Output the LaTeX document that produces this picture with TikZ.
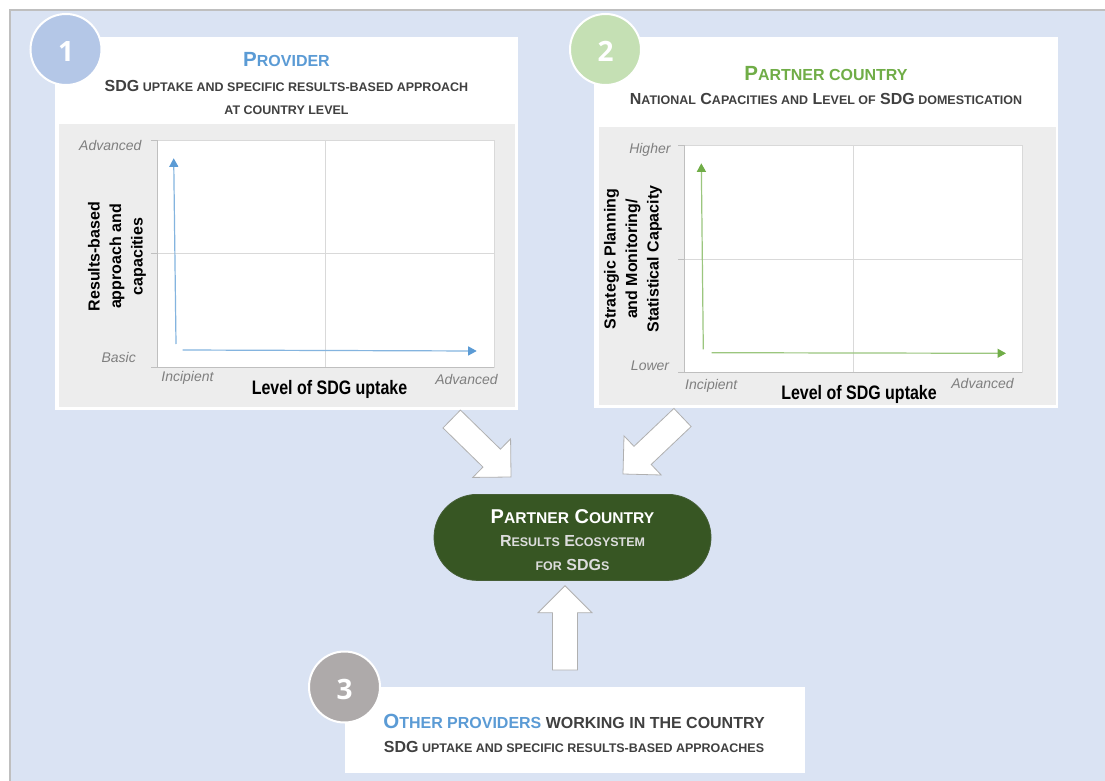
\documentclass[tikz,border=0pt]{standalone}
\usepackage{fontspec}
\setmainfont{Liberation Sans}
\newfontfamily\narrowfont{Liberation Sans}[FakeStretch=0.82]
\newfontfamily\numfont{Open Sans}
\usetikzlibrary{arrows.meta,calc}

\definecolor{panelblue}{HTML}{DAE3F3}
\definecolor{framegrey}{HTML}{BFBFBF}
\definecolor{plotgrey}{HTML}{EDEDED}
\definecolor{gridgrey}{HTML}{D9D9D9}
\definecolor{axisgrey}{HTML}{BFBFBF}
\definecolor{labelgrey}{HTML}{7F7F7F}
\definecolor{textgrey}{HTML}{404040}
\definecolor{provblue}{HTML}{5B9BD5}
\definecolor{partgreen}{HTML}{70AD47}
\definecolor{circblue}{HTML}{B4C7E7}
\definecolor{circgreen}{HTML}{C5E0B4}
\definecolor{circgrey}{HTML}{AEAAAA}
\definecolor{darkgreen}{HTML}{375623}
\definecolor{pillgrey}{HTML}{DDDDDD}
\definecolor{arrowgrey}{HTML}{B0B0B0}

% small caps made from smaller capitals
\makeatletter
\newcommand\sm[1]{{\fontsize{\fpeval{0.78*\f@size}}{\f@baselineskip}\selectfont #1}}
\makeatother
\newcommand\circnum[1]{\raisebox{-2pt}[\height][\depth]{#1}}
% white block arrow from tail #1 to tip #2
\newcommand\blockarrow[2]{%
  \coordinate (hb) at ($(#2)!27pt!(#1)$);
  \draw[blockarrow] ($(#1)!12.5pt!90:(#2)$) -- ($(hb)!12.5pt!90:(#2)$) -- ($(hb)!27pt!90:(#2)$)
    -- (#2) -- ($(hb)!27pt!-90:(#2)$) -- ($(hb)!12.5pt!-90:(#2)$) -- ($(#1)!12.5pt!-90:(#2)$) -- cycle;}

\begin{document}
\begin{tikzpicture}[x=1pt,y=-1pt,
    numcirc/.style={circle,draw=white,line width=2pt,minimum size=71pt,inner sep=0pt,
      text=white,font=\numfont\bfseries\fontsize{28}{30}\selectfont},
    title/.style={anchor=base,inner sep=0pt,font=\bfseries\fontsize{20.5}{24}\selectfont},
    subtitle/.style={anchor=base,inner sep=0pt,text=textgrey,font=\bfseries\fontsize{16}{19}\selectfont},
    ticklabel/.style={inner sep=0pt,text=labelgrey,font=\itshape\fontsize{14}{16}\selectfont},
    axistitle/.style={anchor=base,inner sep=0pt,font=\narrowfont\bfseries\fontsize{19.5}{22}\selectfont},
    ytitle/.style={rotate=90,align=center,inner sep=0pt,font=\bfseries\fontsize{16}{21.5}\selectfont},
    provaxis/.style={draw=provblue!75,line width=1.2pt,-{Triangle[length=8.5pt,width=9pt,color=provblue]}},
    partaxis/.style={draw=partgreen!70,line width=1.2pt,-{Triangle[length=8.5pt,width=9pt,color=partgreen]}},
    blockarrow/.style={fill=white,draw=arrowgrey,line width=0.8pt,line join=miter},
    pill/.style={fill=darkgreen,draw=darkgreen!80!gray,line width=0.8pt,rounded corners=43pt,
      minimum width=277pt,minimum height=86pt,inner sep=0pt},
    pilltext/.style={anchor=base,inner sep=0pt,font=\bfseries\fontsize{16}{19}\selectfont}]

  \useasboundingbox (0,0) rectangle (1105,781);
  \fill[panelblue] (10,10) rectangle (1105,781);
  \draw[framegrey,line width=2pt] (10,781) -- (10,10) -- (1105,10);

  % provider
  \fill[white] (55,37) rectangle (518.3,410);
  \fill[plotgrey] (59,124.3) rectangle (515,407.3);
  \filldraw[fill=white,draw=gridgrey] (157,140.5) rectangle (494.3,366.7);
  \draw[gridgrey] (325.6,140.5) -- (325.6,366.7) (157,253.6) -- (494.3,253.6);
  \draw[axisgrey] (151,140.5) -- (157,140.5) -- (157,366.7) (151,253.6) -- (157,253.6) (151,366.7) -- (494.3,366.7);
  \draw[provaxis] (176,344) -- (173.7,158.3);
  \draw[provaxis] (182.7,350) -- (476.7,351);

  \node[ticklabel,anchor=east] (p-yhi) at (141.7,145) {Advanced};
  \node[ticklabel,anchor=east] (p-ylo) at (136,357.3) {Basic};
  \node[ticklabel] (p-xlo) at (187.5,378.3) {Incipient};
  \node[ticklabel] (p-xhi) at (466.5,379.3) {Advanced};
  \node[axistitle] (p-xt) at (329.5,394) {Level of SDG uptake};
  \node[ytitle] (p-yt) at (117,256.5) {Results-based\\approach and\\capacities};
  \node[title,text=provblue] (p-title) at (286.5,66.7) {P\sm{ROVIDER}};
  \node[subtitle] (p-sub1) at (286.5,91.7) {SDG\sm{ UPTAKE AND SPECIFIC RESULTS-BASED APPROACH}};
  \node[subtitle] (p-sub2) at (286.5,115) {\sm{AT COUNTRY LEVEL}};
  \node[numcirc,fill=circblue] (p-num) at (66,49.5) {\circnum{1}};

  % partner country
  \fill[white] (594,37) rectangle (1058.3,408);
  \fill[plotgrey] (598.5,127) rectangle (1056,405);
  \filldraw[fill=white,draw=gridgrey] (684.3,145.3) rectangle (1021.7,372.3);
  \draw[gridgrey] (853.5,145.3) -- (853.5,372.3) (684.3,258.8) -- (1021.7,258.8);
  \draw[axisgrey] (678.3,145.3) -- (684.3,145.3) -- (684.3,372.3) (678.3,258.8) -- (684.3,258.8) (678.3,372.3) -- (1021.7,372.3);
  \draw[partaxis] (703.3,349.3) -- (701.3,163.3);
  \draw[partaxis] (711.7,352.7) -- (1006,353.3);

  \node[ticklabel,anchor=east] (c-yhi) at (670.7,150) {Higher};
  \node[ticklabel,anchor=east] (c-ylo) at (669.3,366) {Lower};
  \node[ticklabel] (c-xlo) at (711.3,385.7) {Incipient};
  \node[ticklabel] (c-xhi) at (982.5,383.3) {Advanced};
  \node[axistitle] (c-xt) at (859,399.5) {Level of SDG uptake};
  \node[ytitle] (c-yt) at (633,259) {Strategic Planning\\and Monitoring/\\Statistical Capacity};
  \node[title,text=partgreen] (c-title) at (826,81) {P\sm{ARTNER COUNTRY}};
  \node[subtitle] (c-sub) at (826,105) {N\sm{ATIONAL} C\sm{APACITIES AND} L\sm{EVEL OF} SDG\sm{ DOMESTICATION}};
  \node[numcirc,fill=circgreen] (c-num) at (605.5,49.5) {\circnum{2}};

  % other providers
  \fill[white] (345,687) rectangle (805,773);
  \node[title,text=provblue] (o-title) at (574,728.3) {O\sm{THER PROVIDERS \textcolor{textgrey}{WORKING IN THE COUNTRY}}};
  \node[subtitle] (o-sub) at (574,752.3) {SDG\sm{ UPTAKE AND SPECIFIC RESULTS-BASED APPROACHES}};
  \node[numcirc,fill=circgrey] (o-num) at (344.5,687) {\circnum{3}};

  % results ecosystem
  \node[pill] (pc) at (572.5,537.4) {};
  \node[pilltext,text=white,font=\bfseries\fontsize{20}{23}\selectfont] (pc1) at (572.5,523.3) {P\sm{ARTNER} C\sm{OUNTRY}};
  \node[pilltext,text=pillgrey] (pc2) at (572.5,546.7) {R\sm{ESULTS} E\sm{COSYSTEM}};
  \node[pilltext,text=pillgrey] (pc3) at (572.5,570) {\sm{FOR} SDG\sm{S}};

  \coordinate (a1) at (451.7,419);
  \coordinate (a1h) at (511,477);
  \coordinate (a2) at (682.5,417.5);
  \coordinate (a2h) at (623,474);
  \coordinate (a3) at (565,670);
  \coordinate (a3h) at (565,585.7);
  \blockarrow{a1}{a1h}
  \blockarrow{a2}{a2h}
  \blockarrow{a3}{a3h}
\end{tikzpicture}
\end{document}
